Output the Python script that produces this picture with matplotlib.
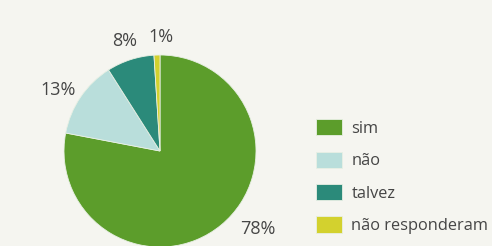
import matplotlib.pyplot as plt

# data
labels = ["sim", "não", "talvez", "não responderam"]
values = [78, 13, 8, 1]
colors = ["#5c9d2b", "#b9dedb", "#2b8a7a", "#d3d12e"]

plt.rcParams["font.family"] = ["Open Sans", "DejaVu Sans"]

fig = plt.figure(figsize=(4.92, 2.46), dpi=100, facecolor="#f5f5f0")
ax = fig.add_axes([0, 0, 1, 1])
ax.set_facecolor("#f5f5f0")

cx, cy, r = 160, 95, 96
wedges, texts = ax.pie(
    values, colors=colors, startangle=90, counterclock=False,
    radius=r, center=(cx, cy),
    labels=[f"{v}%" for v in values], labeldistance=1.2,
    textprops=dict(fontsize=13, color="#454545"),
    wedgeprops=dict(linewidth=0.6, edgecolor="#e8f0e4"),
)
for t in texts:
    t.set_ha("center")
# hand-placed labels as in the print (offsets in radius units)
texts[0].set_position((cx + r * 1.02, cy - r * 0.81))
texts[1].set_position((cx - r * 1.06, cy + r * 0.635))
texts[3].set_position((cx + r * 0.01, cy + r * 1.19))

ax.set_xlim(0, 492)
ax.set_ylim(0, 246)
ax.set_aspect("equal")
ax.axis("off")

leg = ax.legend(
    wedges, labels, loc="upper left", bbox_to_anchor=(308 / 492, 1 - 111 / 246),
    frameon=False, fontsize=11.8, handlelength=1.55, handleheight=1.15,
    labelspacing=0.9, handletextpad=0.6, borderpad=0,
)
for t in leg.get_texts():
    t.set_color("#454545")

fig.savefig("out.png", dpi=100, facecolor=fig.get_facecolor())
